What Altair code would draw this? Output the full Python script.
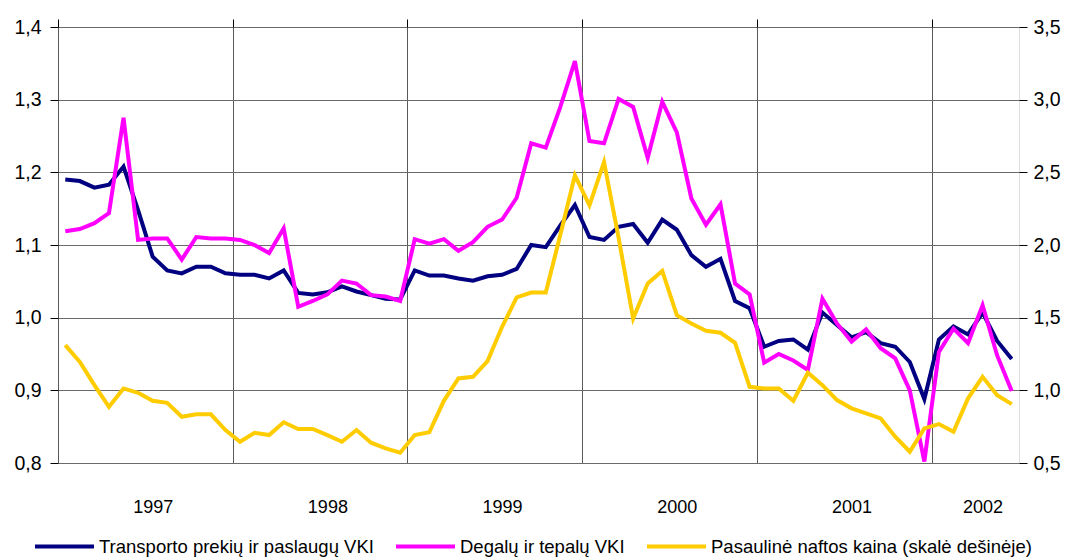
import altair as alt
import pandas as pd

# --- data (monthly, Jan 1997 .. Jun 2002) ---
series_names = [
    "Transporto prekių ir paslaugų VKI",
    "Degalų ir tepalų VKI",
    "Pasaulinė naftos kaina (skalė dešinėje)",
]
series_colors = ["#000080", "#FF00FF", "#FFCC00"]

transport_cpi = [
    1.190, 1.188, 1.179, 1.183, 1.208, 1.148, 1.084, 1.065, 1.061, 1.070, 1.070, 1.061,
    1.059, 1.059, 1.054, 1.065, 1.034, 1.032, 1.035, 1.043, 1.036, 1.031, 1.026, 1.025,
    1.065, 1.058, 1.058, 1.054, 1.051, 1.057, 1.059, 1.067, 1.100, 1.097, 1.127, 1.155,
    1.111, 1.107, 1.125, 1.129, 1.103, 1.135, 1.121, 1.086, 1.070, 1.081, 1.023, 1.013,
    0.960, 0.968, 0.970, 0.956, 1.007, 0.990, 0.973, 0.980, 0.965, 0.960, 0.939, 0.888,
    0.970, 0.988, 0.977, 1.007, 0.968, 0.943,
]
fuel_cpi = [
    1.119, 1.122, 1.130, 1.144, 1.275, 1.107, 1.109, 1.109, 1.080, 1.111, 1.109, 1.109,
    1.107, 1.100, 1.089, 1.123, 1.015, 1.023, 1.032, 1.051, 1.047, 1.031, 1.029, 1.023,
    1.108, 1.102, 1.108, 1.092, 1.104, 1.125, 1.135, 1.165, 1.240, 1.234, 1.290, 1.353,
    1.243, 1.240, 1.301, 1.290, 1.220, 1.297, 1.255, 1.164, 1.128, 1.156, 1.047, 1.032,
    0.938, 0.950, 0.941, 0.928, 1.026, 0.992, 0.967, 0.984, 0.958, 0.944, 0.900, 0.802,
    0.953, 0.985, 0.965, 1.017, 0.948, 0.899,
]
oil_price = [
    1.311, 1.196, 1.036, 0.887, 1.013, 0.983, 0.928, 0.914, 0.818, 0.835, 0.835, 0.727,
    0.646, 0.708, 0.692, 0.780, 0.734, 0.734, 0.692, 0.646, 0.727, 0.640, 0.601, 0.571,
    0.692, 0.711, 0.928, 1.082, 1.093, 1.201, 1.437, 1.639, 1.673, 1.673, 2.070, 2.479,
    2.273, 2.571, 2.050, 1.494, 1.735, 1.822, 1.517, 1.460, 1.410, 1.396, 1.327, 1.024,
    1.013, 1.013, 0.928, 1.121, 1.036, 0.933, 0.876, 0.842, 0.807, 0.681, 0.578, 0.738,
    0.768, 0.715, 0.945, 1.093, 0.967, 0.905,
]

years = ["1997", "1998", "1999", "2000", "2001", "2002"]
year_label_pos = [6, 18, 30, 42, 54, 63]
year_bounds = [-0.5, 11.5, 23.5, 35.5, 47.5, 59.5]
left_ticks = [0.8, 0.9, 1.0, 1.1, 1.2, 1.3, 1.4]
right_ticks = [0.5, 1.0, 1.5, 2.0, 2.5, 3.0, 3.5]

n = len(transport_cpi)
months = list(range(n))

df_left = pd.DataFrame({
    "k": months * 2,
    "value": transport_cpi + fuel_cpi,
    "series": [series_names[0]] * n + [series_names[1]] * n,
})
df_right = pd.DataFrame({
    "k": months,
    "value": oil_price,
    "series": [series_names[2]] * n,
})

FONT = "Liberation Sans, Arial, sans-serif"
comma_expr = "replace(format(datum.value, '.1f'), '.', ',')"
year_expr = " : ".join(
    f"datum.value == {p} ? '{y}'" for p, y in zip(year_label_pos, years)
) + " : ''"

xscale = alt.Scale(domain=[-0.5, n - 0.5], nice=False, zero=False)
color_scale = alt.Scale(domain=series_names, range=series_colors)
legend = alt.Legend(
    title=None, orient="none", legendX=-25, legendY=488, direction="horizontal",
    symbolType="stroke", symbolSize=3481, symbolStrokeWidth=4,
    labelFont=FONT, labelFontSize=18.5, labelColor="black", labelLimit=600,
    columnPadding=14, labelOffset=3, padding=0,
)

left = alt.Chart(df_left).mark_line(strokeWidth=4).encode(
    x=alt.X("k:Q", scale=xscale, axis=alt.Axis(
        values=year_label_pos, labelExpr=year_expr, ticks=False, domain=False,
        grid=False, labelPadding=35, labelFont=FONT, labelFontSize=18,
        labelColor="black", title=None, labelFlush=False, labelOverlap=False)),
    y=alt.Y("value:Q", scale=alt.Scale(domain=[0.8, 1.4], nice=False, zero=False),
            axis=alt.Axis(orient="left", values=left_ticks, labelExpr=comma_expr,
                          grid=True, gridColor="#6a6a6a", gridWidth=1,
                          tickSize=8, tickColor="black", tickWidth=1, domain=False,
                          labelPadding=9, labelFont=FONT, labelFontSize=19.5,
                          labelColor="black", title=None)),
    color=alt.Color("series:N", scale=color_scale, sort=series_names, legend=legend),
    order="k:Q",
)

right = alt.Chart(df_right).mark_line(strokeWidth=4).encode(
    x=alt.X("k:Q", scale=xscale, axis=alt.Axis(
        values=year_bounds, labels=False, ticks=True, tickSize=8, tickColor="black",
        domain=False, grid=True, gridColor="#5a5a5a", gridWidth=1, title=None)),
    y=alt.Y("value:Q", scale=alt.Scale(domain=[0.5, 3.5], nice=False, zero=False),
            axis=alt.Axis(orient="right", values=right_ticks, labelExpr=comma_expr,
                          grid=False, tickSize=8, tickColor="black", tickWidth=1,
                          domain=False, labelPadding=6, labelFont=FONT,
                          labelFontSize=19.5, labelColor="black", title=None)),
    color=alt.Color("series:N", scale=color_scale, sort=series_names, legend=legend),
    order="k:Q",
)

chart = alt.layer(left, right).resolve_scale(
    y="independent"
).resolve_axis(x="independent").properties(
    width=961, height=436,
    autosize=alt.AutoSizeParams(type="none"),
    padding={"left": 50, "top": 19, "right": 43, "bottom": 97},
).configure_view(stroke="black", strokeWidth=2).configure(background="white")

chart.save("out.html", embed_options={"renderer": "svg", "actions": False})
